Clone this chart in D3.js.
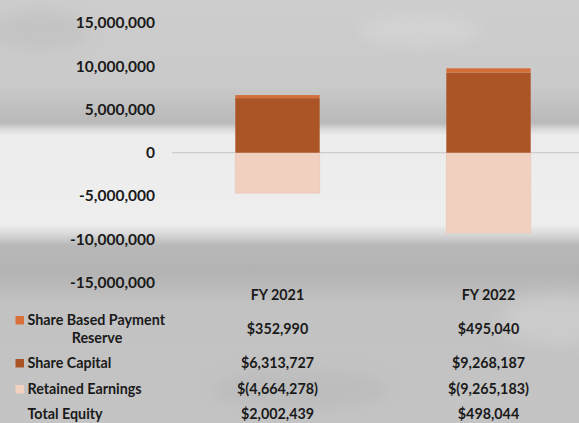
<!DOCTYPE html>
<html>
<head>
<meta charset="utf-8">
<script src="https://cdn.jsdelivr.net/npm/d3@7"></script>
<style>
html,body{margin:0;padding:0;overflow:hidden;}
svg{display:block;}
</style>
</head>
<body>
<svg id="chart" width="579" height="423"></svg>
<script>
const categories = ["FY 2021", "FY 2022"];
const retainedEarnings = [-4664278, -9265183];
const shareCapital = [6313727, 9268187];
const shareBasedReserve = [352990, 495040];
const totalEquity = [2002439, 498044];
const yTicks = [15000000, 10000000, 5000000, 0, -5000000, -10000000, -15000000];

const tableRows = [
  {name: ["Share Based Payment", "Reserve"], values: ["$352,990", "$495,040"], color: "#d9703a"},
  {name: ["Share Capital"], values: ["$6,313,727", "$9,268,187"], color: "#ab5527"},
  {name: ["Retained Earnings"], values: ["$(4,664,278)", "$(9,265,183)"], color: "#f3d1c1"},
  {name: ["Total Equity"], values: ["$2,002,439", "$498,044"], color: null}
];

const svg = d3.select("#chart");
const W = 579, H = 423;
const font = "Lato, 'Open Sans', sans-serif";

// background
const defs = svg.append("defs");
const g = defs.append("linearGradient").attr("id","bg").attr("x1",0).attr("y1",0).attr("x2",0).attr("y2",1);
[[0,"#cdcdcd"],[0.2,"#cacaca"],[0.25,"#c1c1c1"],[0.29,"#b9b9b9"],[0.305,"#d8d8d8"],[0.32,"#ececec"],
 [0.53,"#eeeeee"],[0.55,"#dcdcdc"],[0.58,"#b8b8b8"],[0.64,"#b3b3b3"],[0.72,"#c2c2c2"],[1,"#c4c4c4"]]
 .forEach(([o,c])=>g.append("stop").attr("offset",o).attr("stop-color",c));
svg.append("rect").attr("width",W).attr("height",H).attr("fill","url(#bg)");

const blur = defs.append("filter").attr("id","blur").attr("x","-50%").attr("y","-50%").attr("width","200%").attr("height","200%");
blur.append("feGaussianBlur").attr("stdDeviation",8);
const tex = svg.append("g").attr("filter","url(#blur)").attr("opacity",0.5);
tex.append("ellipse").attr("cx",40).attr("cy",30).attr("rx",50).attr("ry",20).attr("fill","#bcbcbc");
tex.append("ellipse").attr("cx",420).attr("cy",30).attr("rx",60).attr("ry",15).attr("fill","#dadada");
tex.append("ellipse").attr("cx",560).attr("cy",320).attr("rx",60).attr("ry",25).attr("fill","#d4d4d4");
tex.append("ellipse").attr("cx",300).attr("cy",390).attr("rx",90).attr("ry",20).attr("fill","#b6b6b6");

// scales
const y = d3.scaleLinear().domain([-15000000, 15000000]).range([282.5, 23]);
const x = d3.scaleBand().domain(categories).range([172, 594]).paddingInner(0.6).paddingOuter(0.3);

// zero line
svg.append("line").attr("x1",172).attr("x2",W).attr("y1",y(0)).attr("y2",y(0))
  .attr("stroke","#c4c4c4").attr("stroke-width",1.2);

// y axis labels
const yAxis = d3.axisLeft(y).tickValues(yTicks).tickSize(0).tickPadding(0)
  .tickFormat(d => d === 0 ? "0" : d3.format(",")(d).replace("−","-"));
const ya = svg.append("g").attr("transform","translate(155,0)").call(yAxis);
ya.select(".domain").remove();
ya.selectAll("text").attr("font-family",font).attr("font-weight","bold").attr("font-size","15.5px").attr("fill","#1a1a1a");

// bars
const series = [
  {vals: retainedEarnings, base: () => 0, color: "#f2d0bf", stroke: "#e8c9ba"},
  {vals: shareCapital, base: () => 0, color: "#ab5527", stroke: "none"},
  {vals: shareBasedReserve, base: i => shareCapital[i], color: "#d46f3a", stroke: "none"}
];
series.forEach(s => {
  svg.append("g").selectAll("rect").data(categories).join("rect")
    .attr("x", d => x(d))
    .attr("width", x.bandwidth())
    .attr("y", (d,i) => Math.min(y(s.base(i)), y(s.base(i)+s.vals[i])))
    .attr("height", (d,i) => Math.abs(y(s.base(i)) - y(s.base(i)+s.vals[i])))
    .attr("fill", s.color)
    .attr("stroke", s.stroke).attr("stroke-width", 0.8);
});

// table
const tfs = "14.3px";
const cx = d => x(d) + x.bandwidth()/2;
svg.append("g").selectAll("text").data(categories).join("text")
  .attr("x", cx).attr("y", 300).attr("text-anchor","middle")
  .attr("font-family",font).attr("font-weight","bold").attr("font-size",tfs).attr("fill","#1a1a1a")
  .text(d => d);

const rowY = [334, 368, 394, 419];
tableRows.forEach((r, i) => {
  const yy = rowY[i];
  const nameY0 = r.name.length > 1 ? yy - 9 : yy;
  if (r.color) {
    svg.append("rect").attr("x",15.5).attr("y",nameY0-9).attr("width",8.5).attr("height",8.5).attr("fill",r.color);
  }
  const t = svg.append("text").attr("font-family",font).attr("font-weight","bold")
    .attr("font-size",tfs).attr("fill","#1a1a1a");
  if (r.name.length > 1) {
    t.append("tspan").attr("x",27.5).attr("y",nameY0).text(r.name[0]);
    t.append("tspan").attr("x",97).attr("y",nameY0+18).attr("text-anchor","middle").text(r.name[1]);
  } else {
    t.append("tspan").attr("x",27.5).attr("y",nameY0).text(r.name[0]);
  }
  categories.forEach((c, j) => {
    svg.append("text").attr("x", cx(c)).attr("y", yy).attr("text-anchor","middle")
      .attr("font-family",font).attr("font-weight","bold").attr("font-size",tfs).attr("fill","#1a1a1a")
      .text(r.values[j]);
  });
});
</script>
</body>
</html>
